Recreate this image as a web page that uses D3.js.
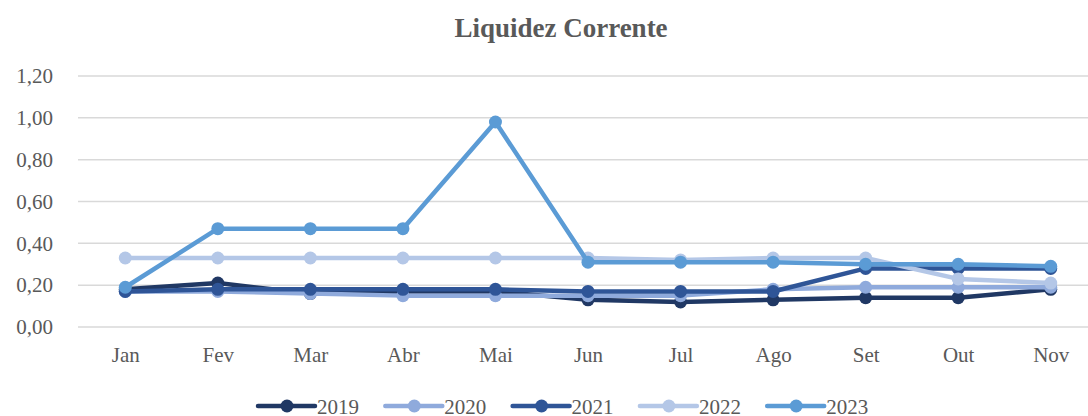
<!DOCTYPE html>
<html>
<head>
<meta charset="utf-8">
<script src="https://cdn.jsdelivr.net/npm/d3@7"></script>
<style>
  body { margin: 0; background: #fff; }
  svg { display: block; font-family: 'Liberation Serif', 'Times New Roman', serif; }
</style>
</head>
<body>
<svg id="chart"></svg>
<script>
const months = ['Jan', 'Fev', 'Mar', 'Abr', 'Mai', 'Jun', 'Jul', 'Ago', 'Set', 'Out', 'Nov']
const yTicks = [0, 0.2, 0.4, 0.6, 0.8, 1.0, 1.2]

const v2019 = [0.18, 0.21, 0.16, 0.17, 0.17, 0.13, 0.12, 0.13, 0.14, 0.14, 0.18]
const v2020 = [0.17, 0.17, 0.16, 0.15, 0.15, 0.15, 0.15, 0.18, 0.19, 0.19, 0.19]
const v2021 = [0.17, 0.18, 0.18, 0.18, 0.18, 0.17, 0.17, 0.17, 0.28, 0.28, 0.28]
const v2022 = [0.33, 0.33, 0.33, 0.33, 0.33, 0.33, 0.32, 0.33, 0.33, 0.23, 0.21]
const v2023 = [0.19, 0.47, 0.47, 0.47, 0.98, 0.31, 0.31, 0.31, 0.30, 0.30, 0.29]

const seriesNames = ['2019', '2020', '2021', '2022', '2023']
const seriesColors = ['#203864', '#8faadc', '#2f5597', '#b4c7e7', '#5b9bd5']

const series = [v2019, v2020, v2021, v2022, v2023].map((values, i) => ({
  name: seriesNames[i],
  color: seriesColors[i],
  values
}))

const width = 1088
const height = 416
const margin = { left: 79, right: -9, top: 76, bottom: 89 }

const svg = d3.select('#chart').attr('width', width).attr('height', height)

const x = d3
  .scalePoint()
  .domain(months)
  .range([margin.left, width - margin.right])
  .padding(0.5)

const y = d3
  .scaleLinear()
  .domain([0, 1.2])
  .range([height - margin.bottom, margin.top])

const fmt = d => d3.format('.2f')(d).replace('.', ',')

// title
svg
  .append('text')
  .attr('x', 561)
  .attr('y', 37)
  .attr('text-anchor', 'middle')
  .attr('fill', '#595959')
  .attr('font-size', 27)
  .attr('font-weight', 'bold')
  .text('Liquidez Corrente')

// gridlines
svg
  .append('g')
  .selectAll('line')
  .data(yTicks)
  .join('line')
  .attr('x1', margin.left - 1)
  .attr('x2', width - margin.right)
  .attr('y1', d => y(d))
  .attr('y2', d => y(d))
  .attr('stroke', '#d9d9d9')
  .attr('stroke-width', 1.5)

// y axis
const yAxis = svg
  .append('g')
  .attr('transform', `translate(${margin.left - 26},0)`)
  .call(d3.axisLeft(y).tickValues(yTicks).tickFormat(fmt).tickSize(0).tickPadding(0))
yAxis.select('.domain').remove()
yAxis
  .selectAll('text')
  .attr('fill', '#595959')
  .attr('font-size', 21)
  .attr('font-family', "'Liberation Serif', serif")

// x axis
const xAxis = svg
  .append('g')
  .attr('transform', `translate(0,${y(0) + 20})`)
  .call(d3.axisBottom(x).tickSize(0).tickPadding(0))
xAxis.select('.domain').remove()
xAxis
  .selectAll('text')
  .attr('fill', '#595959')
  .attr('font-size', 21)
  .attr('font-family', "'Liberation Serif', serif")

// lines + markers
const line = d3
  .line()
  .x((d, i) => x(months[i]))
  .y(d => y(d))

const groups = svg
  .append('g')
  .selectAll('g')
  .data(series)
  .join('g')

groups
  .append('path')
  .attr('d', d => line(d.values))
  .attr('fill', 'none')
  .attr('stroke', d => d.color)
  .attr('stroke-width', 4.5)
  .attr('stroke-linejoin', 'round')
  .attr('stroke-linecap', 'round')

groups
  .selectAll('circle')
  .data(d => d.values.map(v => ({ v, color: d.color })))
  .join('circle')
  .attr('cx', (d, i) => x(months[i]))
  .attr('cy', d => y(d.v))
  .attr('r', 6.5)
  .attr('fill', d => d.color)

// legend
const legend = svg
  .append('g')
  .selectAll('g')
  .data(series)
  .join('g')
  .attr('transform', (d, i) => `translate(${258 + i * 127.3},406)`)

legend
  .append('line')
  .attr('x1', 0)
  .attr('x2', 57)
  .attr('stroke', d => d.color)
  .attr('stroke-width', 4.5)
  .attr('stroke-linecap', 'round')
legend
  .append('circle')
  .attr('cx', 29)
  .attr('r', 6.5)
  .attr('fill', d => d.color)
legend
  .append('text')
  .attr('x', 59)
  .attr('y', 7.5)
  .attr('fill', '#595959')
  .attr('font-size', 21)
  .text(d => d.name)
</script>
</body>
</html>
